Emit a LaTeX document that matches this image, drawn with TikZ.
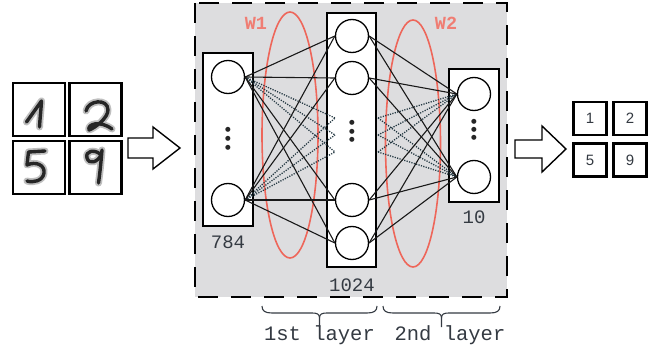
\documentclass[tikz,border=0pt]{standalone}
\usepackage{fontspec}
\setmonofont{Liberation Mono}
\newfontfamily\digitfont{Liberation Sans}
\newfontfamily\symfont{DejaVu Sans}
\definecolor{panelgray}{RGB}{221,221,223}
\definecolor{wred}{RGB}{238,102,90}
\definecolor{ink}{RGB}{52,58,66}
\definecolor{slate}{RGB}{38,58,68}
\begin{document}
\begin{tikzpicture}[x=1pt,y=-1pt,
  layerbox/.style={draw=black, line width=1.8pt, fill=white, inner sep=0pt},
  unit/.style={circle, draw=black, line width=1.3pt, fill=white, minimum size=33pt, inner sep=0pt},
  link/.style={line width=1.1pt, black!90},
  sparse/.style={line width=1.3pt, slate, dash pattern=on 1.2pt off 1.3pt},
  weights/.style={draw=wred, line width=1.6pt},
  count/.style={font=\fontsize{19}{19}\selectfont\ttfamily, text=ink},
  wlabel/.style={font=\fontsize{18.5}{18.5}\selectfont\ttfamily\bfseries, text=wred!85},
  imgbox/.style={draw=black, line width=2.2pt, fill=white, inner sep=0pt, minimum width=52pt, minimum height=53pt},
  outbox/.style={draw=black, line width=2.8pt, fill=white, inner sep=0pt, minimum width=33pt, minimum height=33pt,
                 font=\fontsize{15}{15}\selectfont\digitfont, text=ink},
  pen/.style={line width=3.4pt, black!85, line cap=round, line join=round},
  penhalo/.style={line width=7pt, black!25, line cap=round, line join=round},
  blockarrow/.style={draw=black, line width=1.4pt, fill=white, line join=miter},
  dotmark/.style={inner sep=0pt, text=black!85, font=\fontsize{6.5}{6.5}\selectfont\symfont}
]
\useasboundingbox (0,0) rectangle (654,350);

% network panel
\fill[panelgray] (195,3) rectangle (507,297);
\draw[line width=2pt, dash pattern=on 20pt off 13pt] (195,3) rectangle (507,297);

% handwritten input digits
\node[imgbox] (imgA) at (39,109.5) {};
\node[imgbox] (imgB) at (95.5,109.5) {};
\node[imgbox] (imgC) at (39,167.5) {};
\node[imgbox] (imgD) at (95.5,167.5) {};
\foreach \s in {penhalo,pen}{
  % one
  \draw[\s] (26.5,122) -- (41.5,101) .. controls (41,110) and (40,118) .. (39.5,127);
  % two
  \draw[\s] (86,111) .. controls (88,100) and (108,98) .. (108,110)
            .. controls (108,118) and (95,128) .. (89,130)
            .. controls (87,124) and (100,120) .. (112,129);
  % five
  \draw[\s] (45,151) -- (28.5,152) -- (27,165)
            .. controls (36,161) and (45,165) .. (44,173)
            .. controls (43,181) and (33,183) .. (27,181);
  % nine
  \draw[\s] (100,154) .. controls (94,149) and (85,151) .. (87,158)
            .. controls (89,165) and (98,162) .. (101,155);
  \draw[\s] (102,150) .. controls (101,162) and (100,172) .. (98.5,183);
}

% input and output arrows
\draw[blockarrow] (128,138) -- (153,138) -- (153,127) -- (180,148) -- (153,169) -- (153,158) -- (128,158) -- cycle;
\draw[blockarrow] (515,140) -- (542,140) -- (542,126) -- (566,149) -- (542,172) -- (542,158) -- (515,158) -- cycle;

% weight groups
\draw[weights] (290,135) ellipse (28 and 123);
\draw[weights] (413,143.5) ellipse (27.5 and 123.5);
\node[wlabel] (w1) at (256,23) {W1};
\node[wlabel] (w2) at (446,23) {W2};

% layers
\node[layerbox, minimum width=50pt, minimum height=173pt] (inbox) at (228,139.5) {};
\node[layerbox, minimum width=49pt, minimum height=254pt] (hidbox) at (351.5,140) {};
\node[layerbox, minimum width=50pt, minimum height=133pt] (outlayer) at (474,135.5) {};

\node[unit] (l1) at (228,77) {};
\node[unit] (l2) at (228,200) {};
\node[dotmark] (ld1) at (228,130) {●};
\node[dotmark] (ld2) at (228,139) {●};
\node[dotmark] (ld3) at (228,148) {●};

\node[unit] (m1) at (352,36) {};
\node[unit] (m2) at (352,78) {};
\node[unit] (m3) at (352,200) {};
\node[unit] (m4) at (352,243) {};
\node[dotmark] (md1) at (352,123) {●};
\node[dotmark] (md2) at (352,131.5) {●};
\node[dotmark] (md3) at (352,140) {●};

\node[unit] (r1) at (474,94) {};
\node[unit] (r2) at (474,177) {};
\node[dotmark] (rd1) at (474,122) {●};
\node[dotmark] (rd2) at (474,130) {●};
\node[dotmark] (rd3) at (474,138) {●};

% sparse connection hints
\coordinate (ha) at (335,118);
\coordinate (hb) at (335,135);
\coordinate (hc) at (335,152);
\coordinate (ka) at (378,118);
\coordinate (kb) at (378,135);
\coordinate (kc) at (378,152);
\foreach \a in {l1,l2}
  \foreach \b in {ha,hb,hc}
    \draw[sparse] (\a.east) -- (\b);
\foreach \a in {ka,kb,kc}
  \foreach \b in {r1,r2}
    \draw[sparse] (\a) -- (\b.west);

% full connections
\foreach \a in {l1,l2}
  \foreach \b in {m1,m2,m3,m4}
    \draw[link] (\a.east) -- (\b.west);
\foreach \a in {m1,m2,m3,m4}
  \foreach \b in {r1,r2}
    \draw[link] (\a.east) -- (\b.west);

% layer sizes
\node[count] (n784) at (228,242) {784};
\node[count] (n1024) at (352,285) {1024};
\node[count] (n10) at (474,217) {10};

% predicted labels
\node[outbox] (o1) at (590,118.5) {1};
\node[outbox] (o2) at (630,118.5) {2};
\node[outbox] (o5) at (590,160) {5};
\node[outbox] (o9) at (630,160) {9};

% layer braces
\draw[line width=1.1pt, ink] (262,306) .. controls (262,311) and (265,313) .. (272,313) -- (312,313)
  .. controls (317,313) and (319.5,314) .. (319.5,318) -- (319.5,327);
\draw[line width=1.1pt, ink] (319.5,318) .. controls (319.5,314) and (322,313) .. (327,313) -- (367,313)
  .. controls (374,313) and (377,311) .. (377,306);
\draw[line width=1.1pt, ink] (383,306) .. controls (383,311) and (386,313) .. (393,313) -- (434,313)
  .. controls (439,313) and (441.5,314) .. (441.5,318) -- (441.5,327);
\draw[line width=1.1pt, ink] (441.5,318) .. controls (441.5,314) and (444,313) .. (449,313) -- (490,313)
  .. controls (497,313) and (500,311) .. (500,306);
\node[count, font=\fontsize{20.5}{20.5}\selectfont\ttfamily] (lay1) at (319.5,335) {1st layer};
\node[count, font=\fontsize{20.5}{20.5}\selectfont\ttfamily] (lay2) at (450,335) {2nd layer};
\end{tikzpicture}
\end{document}
